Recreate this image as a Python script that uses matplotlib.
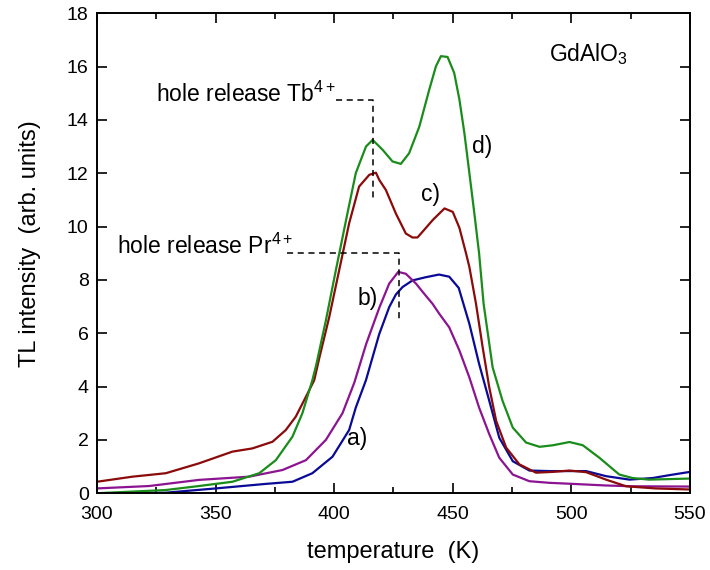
import matplotlib
matplotlib.use("Agg")
import matplotlib.pyplot as plt
from matplotlib.ticker import MultipleLocator

plt.rcParams['font.family'] = ['Liberation Sans', 'DejaVu Sans']
plt.rcParams['mathtext.fontset'] = 'custom'
plt.rcParams['mathtext.rm'] = 'Liberation Sans'
plt.rcParams['mathtext.it'] = 'Liberation Sans'

# a) blue
t_a = [300, 329, 350.1, 371.2, 382.4, 390.8, 399.3, 406.3, 409.1, 413.4, 419.0, 423.2, 426.0,
       428.8, 433.0, 438.6, 444.2, 448.5, 452.5, 457.0, 461.1, 465.4, 469.6, 475.3, 482.3,
       490.7, 497.8, 506.2, 514.6, 524.5, 534.3, 541.5, 550]
i_a = [0.0, 0.02, 0.18, 0.35, 0.43, 0.75, 1.37, 2.37, 3.21, 4.24, 5.97, 6.98, 7.45,
       7.73, 7.98, 8.1, 8.2, 8.12, 7.7, 6.35, 4.85, 3.46, 2.08, 1.2, 0.85,
       0.83, 0.83, 0.83, 0.64, 0.51, 0.57, 0.68, 0.8]

# b) purple
t_b = [300, 322, 343, 364.1, 378.2, 388.1, 396.5, 403.5, 408.5, 413.5, 419.0, 423.2, 427.0,
       430.2, 434.5, 437.3, 441.5, 444.3, 448.5, 452.8, 457.0, 461.1, 465.4, 469.6, 475.3,
       482.3, 490.7, 500.6, 514.6, 525.8, 550]
i_b = [0.18, 0.27, 0.5, 0.62, 0.87, 1.24, 2.0, 3.0, 4.15, 5.6, 6.95, 7.86, 8.3,
       8.23, 7.86, 7.55, 7.1, 6.73, 6.22, 5.35, 4.34, 3.21, 2.21, 1.33, 0.7,
       0.45, 0.39, 0.35, 0.29, 0.26, 0.25]

# c) dark red
t_c = [300, 314.9, 329, 343, 357.1, 365.5, 374, 379.6, 383.8, 388.1, 391.6, 393.8, 397.9,
       402.1, 406.3, 410.5, 414.8, 417.6, 419.0, 421.8, 426.0, 430.2, 433.0, 435.1, 437.2,
       441.5, 446.5, 450.0, 452.8, 455.6, 457.0, 459.8, 462.6, 465.4, 468.3, 472.5, 478.1,
       485.1, 492.1, 499.2, 506.2, 514.6, 523.1, 535.4, 550]
i_c = [0.43, 0.62, 0.75, 1.12, 1.56, 1.68, 1.93, 2.37, 2.87, 3.62, 4.24, 5.1, 6.6,
       8.36, 10.12, 11.5, 11.94, 12.02, 11.75, 11.37, 10.49, 9.74, 9.59, 9.59, 9.8,
       10.24, 10.68, 10.55, 9.95, 8.99, 8.48, 7.1, 5.47, 3.96, 2.71, 1.71, 1.08,
       0.77, 0.8, 0.85, 0.79, 0.51, 0.26, 0.18, 0.14]

# d) green
t_d = [300, 329, 343, 357.1, 368.4, 375.4, 382.4, 386.6, 390.8, 392.4, 396.5, 400.7, 405.0,
       409.1, 413.4, 416.2, 420.4, 424.6, 428.1, 431.6, 435.9, 440.1, 442.9, 445.0, 447.8,
       450.6, 452.8, 454.9, 457.0, 459.1, 461.1, 463.0, 466.8, 471.0, 475.3, 480.9, 486.6,
       492.3, 499.2, 504.8, 511.8, 520.2, 525.8, 532.7, 550]
i_d = [0.0, 0.12, 0.27, 0.43, 0.75, 1.24, 2.12, 3.0, 4.24, 4.8, 6.48, 8.36, 10.24,
       12.0, 13.0, 13.25, 12.88, 12.44, 12.35, 12.75, 13.75, 15.14, 16.01, 16.39, 16.36,
       15.76, 14.76, 13.5, 12.0, 10.49, 8.99, 7.1, 4.72, 3.46, 2.46, 1.9, 1.74,
       1.8, 1.92, 1.8, 1.33, 0.7, 0.57, 0.51, 0.55]

fig = plt.figure(figsize=(7.10, 5.70), dpi=100)
ax = fig.add_axes([0.1366, 0.1347, 0.8352, 0.8421])

lw = 1.6
ax.plot(t_a, i_a, color='#0a0a96', lw=lw)
ax.plot(t_b, i_b, color='#8c1490', lw=lw)
ax.plot(t_c, i_c, color='#8b0a0a', lw=lw)
ax.plot(t_d, i_d, color='#1a8c1a', lw=lw)

ax.set_xlim(300, 550)
ax.set_ylim(0, 18)
ax.xaxis.set_major_locator(MultipleLocator(50))
ax.xaxis.set_minor_locator(MultipleLocator(25))
ax.yaxis.set_major_locator(MultipleLocator(2))
ax.tick_params(which='both', direction='in', top=True, right=True, labelsize=14, width=1.2)
ax.tick_params(which='major', length=7)
ax.tick_params(which='minor', length=4.5)
ax.tick_params(axis='x', pad=9)
ax.tick_params(axis='y', pad=6)
for s in ax.spines.values():
    s.set_linewidth(1.4)

ax.set_xlabel('temperature  (K)', fontsize=17)
ax.set_ylabel('TL intensity  (arb. units)', fontsize=17)
ax.xaxis.set_label_coords(0.5, -0.1)
ax.yaxis.set_label_coords(-0.095, 0.52)

# annotations
ax.plot([400.7, 416.5, 416.5], [14.74, 14.74, 11.0], ls=(0, (4, 3)), color='black', lw=1.1)
ax.plot([380.3, 427.4, 427.4], [9.0, 9.0, 6.43], ls=(0, (4, 3)), color='black', lw=1.1)
ax.text(324.8, 14.67, r'hole release Tb$^{\mathrm{4+}}$', fontsize=16.5, va='baseline', ha='left')
ax.text(308.4, 8.97, r'hole release Pr$^{\mathrm{4+}}$', fontsize=16.5, va='baseline', ha='left')
ax.text(490.6, 16.2, r'GdAlO$_{\mathrm{3}}$', fontsize=16.5, va='baseline', ha='left')
ax.text(405.5, 2.07, 'a)', fontsize=16.5, va='center', ha='left')
ax.text(409.7, 7.3, 'b)', fontsize=16.5, va='center', ha='left')
ax.text(436.6, 11.2, 'c)', fontsize=16.5, va='center', ha='left')
ax.text(458.1, 13.0, 'd)', fontsize=16.5, va='center', ha='left')

fig.savefig('out.png', dpi=100)
